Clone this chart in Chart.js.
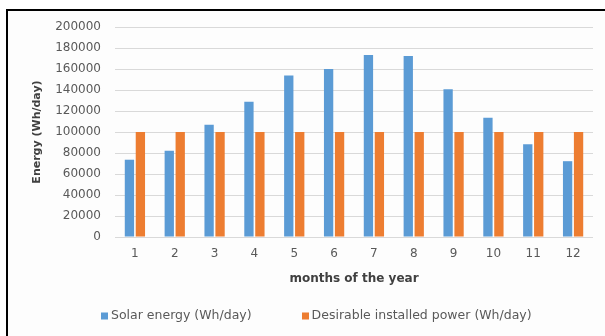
<!DOCTYPE html>
<html>
<head>
<meta charset="utf-8">
<script src="https://cdn.jsdelivr.net/npm/chart.js@4/dist/chart.umd.min.js"></script>
<style>
  html, body { margin: 0; padding: 0; background: #ffffff; }
  body { width: 605px; height: 336px; position: relative; overflow: hidden; }
  #frame {
    position: absolute; left: 6px; top: 9px; width: 610px; height: 340px;
    border-left: 2px solid #000; border-top: 2px solid #000;
    background: #fdfdfd;
  }
  #wrap { position: absolute; left: 0; top: 0; width: 605px; height: 336px; }
</style>
</head>
<body>
<div id="frame"></div>
<div id="wrap"><canvas id="chart" width="605" height="336"></canvas></div>
<script>
// Months of the year
const months = ['1', '2', '3', '4', '5', '6', '7', '8', '9', '10', '11', '12'];
// Solar energy produced per day for each month (Wh/day)
const solarEnergy = [73600, 82200, 106800, 128700, 153700, 160000, 173400, 172400, 140700, 113500, 88400, 72200];
// Desired installed power (Wh/day)
const desiredPower = [100000, 100000, 100000, 100000, 100000, 100000, 100000, 100000, 100000, 100000, 100000, 100000];
// Y axis ticks
const yTicks = [0, 20000, 40000, 60000, 80000, 100000, 120000, 140000, 160000, 180000, 200000];

const FONT = '"DejaVu Sans", "Liberation Sans", sans-serif';
const TEXT = '#595959';
const TITLE = '#404040';

// Legend drawn under the axis title, two swatches side by side
const bottomLegend = {
  id: 'bottomLegend',
  afterDraw(chart) {
    const ctx = chart.ctx;
    const items = chart.data.datasets.map(d => ({ text: d.label, color: d.backgroundColor }));
    const box = 7, gapText = 3, gapItem = 50, y = 316, startX = 101;
    ctx.save();
    ctx.font = '12.5px ' + FONT;
    ctx.textBaseline = 'middle';
    ctx.textAlign = 'left';
    let x = startX;
    items.forEach((it) => {
      ctx.fillStyle = it.color;
      ctx.fillRect(Math.round(x), y - box / 2, box, box);
      ctx.fillStyle = TEXT;
      ctx.fillText(it.text, x + box + gapText, y);
      x += box + gapText + ctx.measureText(it.text).width + gapItem;
    });
    ctx.restore();
  }
};

new Chart(document.getElementById('chart'), {
  type: 'bar',
  data: {
    labels: months,
    datasets: [
      { label: 'Solar energy (Wh/day)', data: solarEnergy, backgroundColor: '#5b9bd5',
        categoryPercentage: 0.55, barPercentage: 0.85 },
      { label: 'Desirable installed power (Wh/day)', data: desiredPower, backgroundColor: '#ed7d31',
        categoryPercentage: 0.55, barPercentage: 0.85 }
    ]
  },
  plugins: [bottomLegend],
  options: {
    responsive: false,
    animation: false,
    layout: { padding: { left: 31, right: 12, top: 27, bottom: 50 } },
    plugins: {
      tooltip: { enabled: false },
      legend: { display: false }
    },
    scales: {
      x: {
        grid: { display: false },
        border: { display: false },
        ticks: { color: TEXT, font: { family: FONT, size: 12 }, padding: 2 },
        title: { display: true, text: 'months of the year', color: TITLE,
                 font: { family: FONT, size: 12, weight: 'bold' }, padding: { top: 10, bottom: 0 } },
        afterFit: (s) => { s.height = 49; }
      },
      y: {
        min: 0, max: 200000,
        afterBuildTicks: (s) => { s.ticks = yTicks.map(v => ({ value: v })); },
        grid: { color: '#d9d9d9', drawTicks: false, lineWidth: 1 },
        border: { display: false },
        ticks: { color: TEXT, font: { family: FONT, size: 12 }, padding: 14,
                 callback: (v) => String(v) },
        title: { display: true, text: 'Energy (Wh/day)', color: TITLE,
                 font: { family: FONT, size: 11, weight: 'bold' }, padding: 0 },
        afterFit: (s) => { s.width = 84; }
      }
    }
  }
});
</script>
</body>
</html>
